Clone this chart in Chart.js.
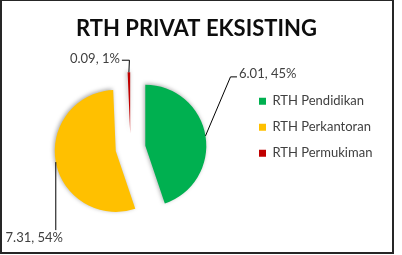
<!DOCTYPE html>
<html>
<head>
<meta charset="utf-8">
<script src="https://cdn.jsdelivr.net/npm/chart.js@4.4.1/dist/chart.umd.min.js"></script>
<style>
  html, body { margin: 0; padding: 0; background: #fff; }
  #frame {
    position: absolute; left: 0; top: 0;
    width: 390px; height: 251px;
    border: 2px solid #262626; border-top-width: 1px;
  }
</style>
</head>
<body>
<div id="frame"><canvas id="pieChart"></canvas></div>
<script>
// Values
var categories = ['RTH Pendidikan', 'RTH Perkantoran', 'RTH Permukiman'];
var luas = [6.01, 7.31, 0.09];
var percentLabels = ['45%', '54%', '1%'];
var sliceColors = ['#00B050', '#FFC000', '#C00000'];

// how far every slice is pulled away from the centre (px)
var EXPLODE = 15;

// Pie controller that pulls each slice out along its bisector (the built-in
// "offset" option also shrinks the angle, which wipes out the 1% slice)
class ExplodedPie extends Chart.PieController {
  draw() {
    var ctx = this.chart.ctx;
    this._cachedMeta.data.forEach(function (arc) {
      var mid = (arc.startAngle + arc.endAngle) / 2;
      ctx.save();
      ctx.shadowColor = 'rgba(0, 0, 0, 0.35)';
      ctx.shadowBlur = 4;
      ctx.shadowOffsetX = -1;
      ctx.shadowOffsetY = -1;
      ctx.translate(Math.cos(mid) * EXPLODE, Math.sin(mid) * EXPLODE);
      arc.draw(ctx);
      ctx.restore();
    });
  }
}
ExplodedPie.id = 'explodedPie';
Chart.register(ExplodedPie);

// data labels with leader lines, like Excel's
var leaderLabels = {
  id: 'leaderLabels',
  afterDatasetsDraw: function (chart, args, opts) {
    var ctx = chart.ctx;
    var arcs = chart.getDatasetMeta(0).data;
    ctx.save();
    ctx.strokeStyle = opts.lineColor;
    ctx.lineWidth = opts.lineWidth;
    ctx.fillStyle = opts.color;
    ctx.font = opts.font;
    ctx.textBaseline = 'middle';
    arcs.forEach(function (arc, i) {
      var mid = (arc.startAngle + arc.endAngle) / 2;
      var dist = arc.outerRadius + EXPLODE;
      var ax = arc.x + Math.cos(mid) * dist;
      var ay = arc.y + Math.sin(mid) * dist;
      var p = opts.placement[i];
      var ex = ax + p.elbow[0], ey = ay + p.elbow[1];
      ctx.beginPath();
      ctx.moveTo(ax, ay);
      ctx.lineTo(ex, ey);
      ctx.lineTo(ex + p.run, ey);
      ctx.stroke();
      ctx.textAlign = p.align;
      ctx.fillText(luas[i].toFixed(2) + ', ' + percentLabels[i], ex + p.run + p.text[0], ey + p.text[1]);
    });
    ctx.restore();
  }
};

var pieChart = new Chart(document.getElementById('pieChart'), {
  type: 'explodedPie',
  data: {
    labels: categories,
    datasets: [{
      data: luas,
      backgroundColor: sliceColors,
      borderWidth: 0
    }]
  },
  options: {
    responsive: true,
    maintainAspectRatio: false,
    animation: false,
    radius: 61,
    layout: {
      padding: { left: 13, right: 14, top: 0, bottom: 0 }
    },
    plugins: {
      title: {
        display: true,
        text: 'RTH PRIVAT EKSISTING',
        color: '#0d0d0d',
        font: { family: 'Lato', size: 22, weight: 'bold' },
        padding: { top: 15, bottom: 2 }
      },
      legend: {
        position: 'right',
        align: 'start',
        fullSize: false,
        maxWidth: 132,
        title: {
          display: true,
          text: '',
          font: { size: 12 },
          padding: { top: 23, bottom: 0 }
        },
        labels: {
          boxWidth: 7,
          boxHeight: 7,
          padding: 13,
          color: '#404040',
          font: { family: 'Lato', size: 13 }
        }
      },
      tooltip: { enabled: false },
      leaderLabels: {
        color: '#404040',
        lineColor: '#000',
        lineWidth: 1,
        font: '13px Lato',
        placement: [
          { elbow: [25, -59], run: 6.5, text: [2, -3], align: 'left' },
          { elbow: [0, 68], run: 0, text: [-21.5, 8], align: 'center' },
          { elbow: [0.5, -12], run: -7.5, text: [-2, -1.5], align: 'right' }
        ]
      }
    }
  },
  plugins: [leaderLabels]
});
</script>
</body>
</html>
